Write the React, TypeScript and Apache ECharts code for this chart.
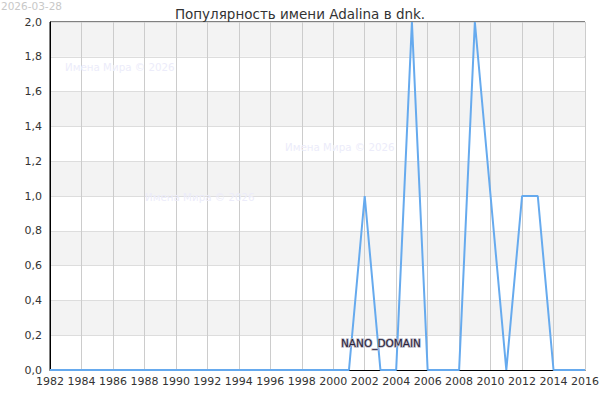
import React, { useEffect, useRef } from "react";
import * as echarts from "echarts";

const years: number[] = [
  1982, 1983, 1984, 1985, 1986, 1987, 1988, 1989, 1990, 1991, 1992, 1993,
  1994, 1995, 1996, 1997, 1998, 1999, 2000, 2001, 2002, 2003, 2004, 2005,
  2006, 2007, 2008, 2009, 2010, 2011, 2012, 2013, 2014, 2015, 2016,
];
const values: number[] = [
  0, 0, 0, 0, 0, 0, 0, 0, 0, 0, 0, 0,
  0, 0, 0, 0, 0, 0, 0, 0, 1, 0, 0, 2,
  0, 0, 0, 2, 1, 0, 1, 1, 0, 0, 0,
];
const titleText = "Популярность имени Adalina в dnk.";
const dateText = "2026-03-28";
const watermarkText = "Имена Мира © 2026";
const brandText = "NANO_DOMAIN";

const FONT = "DejaVu Sans";

export default function App() {
  const ref = useRef<HTMLDivElement>(null);
  useEffect(() => {
    document.body.style.margin = "0";
    if (!ref.current) return;
    const chart = echarts.init(ref.current, undefined, { renderer: "svg" });
    const data = years.map((y, i) => [y, values[i]]);
    chart.setOption({
      animation: false,
      textStyle: { fontFamily: FONT },
      title: {
        text: titleText,
        left: "center",
        top: 2,
        textStyle: { fontSize: 13.5, fontWeight: "normal", color: "#333", fontFamily: FONT },
      },
      grid: {
        left: 50,
        right: 15,
        top: 22,
        bottom: 30,
        containLabel: false,
        outerBoundsMode: "none",
        show: true,
        borderColor: "#000",
        borderWidth: 1,
        backgroundColor: "transparent",
      },
      xAxis: {
        type: "value",
        min: 1982,
        max: 2016,
        interval: 2,
        axisLine: { show: true, lineStyle: { color: "#000", width: 1 } },
        axisTick: { show: false },
        axisLabel: {
          color: "#333",
          fontSize: 11,
          fontFamily: FONT,
          margin: 6,
          formatter: (v: number) => String(v),
        },
        splitLine: { show: true, lineStyle: { color: "#ccc", width: 1 } },
      },
      yAxis: {
        type: "value",
        min: 0,
        max: 2,
        interval: 0.2,
        axisLine: { show: true, lineStyle: { color: "#000", width: 1 } },
        axisTick: { show: false },
        axisLabel: {
          color: "#333",
          fontSize: 11,
          fontFamily: FONT,
          margin: 8,
          formatter: (v: number) => v.toFixed(1).replace(".", ","),
        },
        splitLine: { show: true, lineStyle: { color: "#ddd", width: 1 } },
        splitArea: { show: true, areaStyle: { color: ["#ffffff", "#f3f3f3"] } },
      },
      series: [
        {
          type: "line",
          data,
          symbol: "none",
          lineStyle: { color: "#66aaee", width: 2 },
          z: 3,
        },
      ],
      graphic: [
        {
          type: "text",
          x: 1,
          y: 0,
          style: { text: dateText, fill: "#c8c8c8", fontSize: 10.5, fontFamily: FONT },
        },
        {
          type: "text",
          x: 65,
          y: 62,
          style: { text: watermarkText, fill: "#ececfa", fontSize: 10.3, fontFamily: FONT },
          z: 10,
        },
        {
          type: "text",
          x: 285,
          y: 142,
          style: { text: watermarkText, fill: "#ececfa", fontSize: 10.3, fontFamily: FONT },
          z: 10,
        },
        {
          type: "text",
          x: 145,
          y: 192,
          style: { text: watermarkText, fill: "#ececfa", fontSize: 10.3, fontFamily: FONT },
          z: 10,
        },
        {
          type: "text",
          x: 341,
          y: 337,
          style: {
            text: brandText,
            fill: "#2a2238",
            stroke: "#bbbbc8",
            lineWidth: 1.5,
            fontSize: 10.5,
            fontFamily: FONT,
          },
          z: 10,
        },
      ],
    });
    return () => chart.dispose();
  }, []);
  return <div ref={ref} style={{ width: 600, height: 400 }} />;
}
